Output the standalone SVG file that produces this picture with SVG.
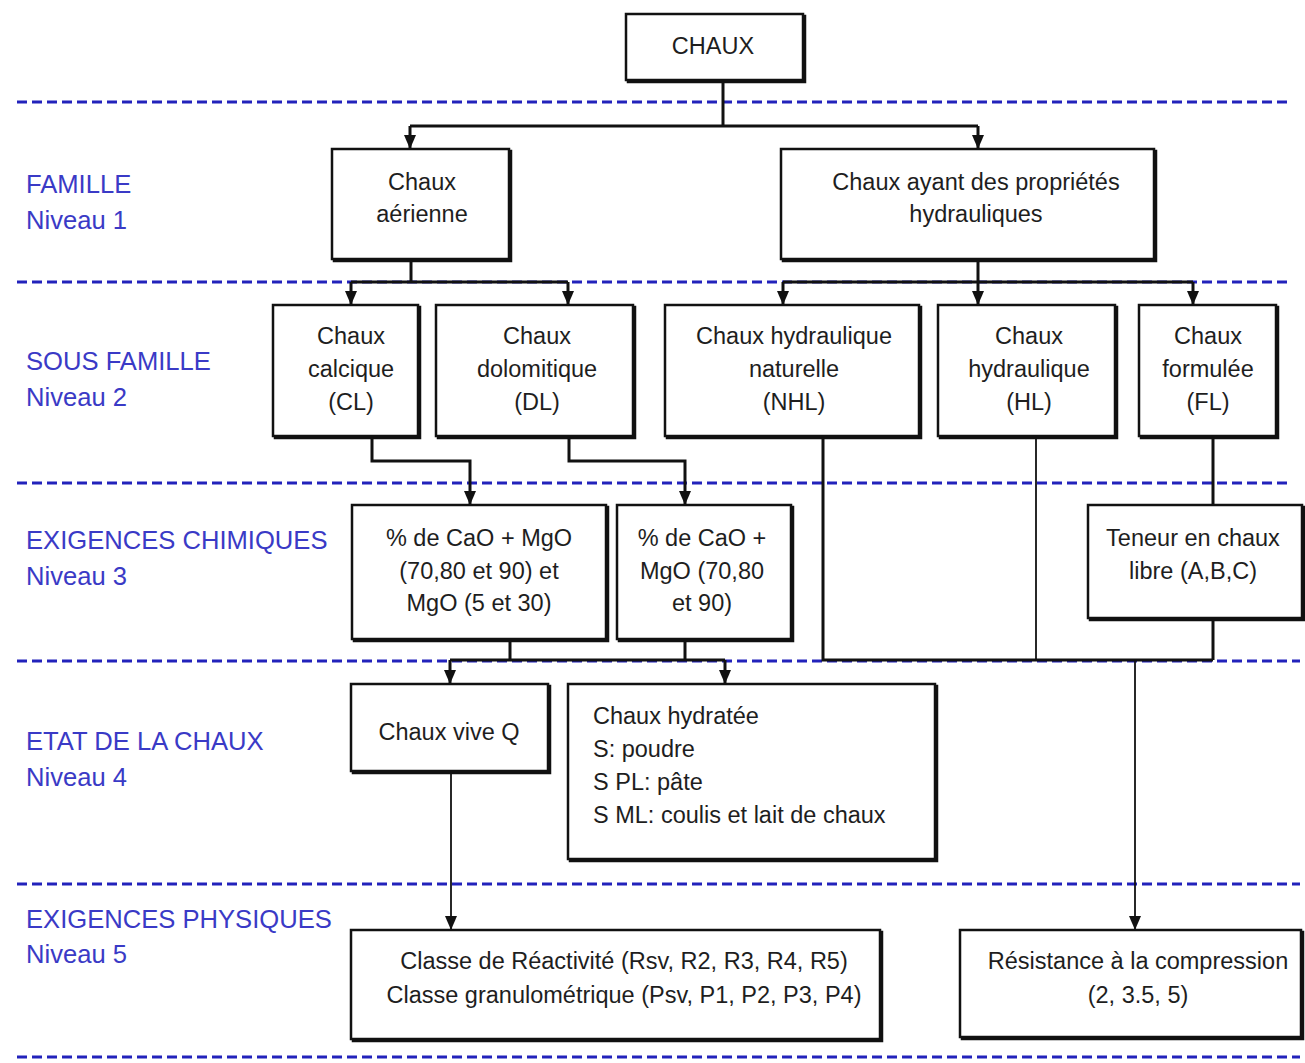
<svg xmlns="http://www.w3.org/2000/svg" width="1305" height="1063" viewBox="0 0 1305 1063">
  <style>
    .lvl { stroke: #2222bb; stroke-width: 3; stroke-dasharray: 10 5; fill: none; }
    .lab { font-family: "Liberation Sans", Arial, sans-serif; font-size: 25.6px; fill: #3a3ac6; }
    .box { fill: #ffffff; stroke: #111111; stroke-width: 2.5; }
    .shd { fill: none; stroke: #111111; stroke-width: 2.5; }
    .t { font-family: "Liberation Sans", Arial, sans-serif; font-size: 23.5px; fill: #1e1e1e; text-anchor: middle; }
    .tl { font-family: "Liberation Sans", Arial, sans-serif; font-size: 23.5px; fill: #1e1e1e; }
    .c { stroke: #111111; stroke-width: 3; fill: none; }
    .cf { stroke: #111111; stroke-width: 1.8; fill: none; }
  </style>
  <defs>
    <marker id="arr" viewBox="0 0 14 12" refX="14" refY="6" markerWidth="14" markerHeight="12" markerUnits="userSpaceOnUse" orient="auto">
      <path d="M0,0 L14,6 L0,12 z" fill="#111111"/>
    </marker>
  </defs>

  <rect width="1305" height="1063" fill="#ffffff"/>

  <!-- level separators -->
  <g id="separators">
    <line class="lvl" x1="17" y1="102" x2="1290" y2="102"/>
    <line class="lvl" x1="17" y1="282" x2="1290" y2="282"/>
    <line class="lvl" x1="17" y1="483" x2="1290" y2="483"/>
    <line class="lvl" x1="17" y1="661" x2="1300" y2="661"/>
    <line class="lvl" x1="17" y1="884" x2="1300" y2="884"/>
    <line class="lvl" x1="17" y1="1057" x2="1300" y2="1057"/>
  </g>

  <!-- level labels -->
  <g id="labels">
    <text class="lab" x="26" y="193">FAMILLE</text>
    <text class="lab" x="26" y="229">Niveau 1</text>
    <text class="lab" x="26" y="370">SOUS FAMILLE</text>
    <text class="lab" x="26" y="406">Niveau 2</text>
    <text class="lab" x="26" y="549">EXIGENCES CHIMIQUES</text>
    <text class="lab" x="26" y="585">Niveau 3</text>
    <text class="lab" x="26" y="750">ETAT DE LA CHAUX</text>
    <text class="lab" x="26" y="786">Niveau 4</text>
    <text class="lab" x="26" y="928">EXIGENCES PHYSIQUES</text>
    <text class="lab" x="26" y="963">Niveau 5</text>
  </g>

  <!-- connectors -->
  <g id="connectors">
    <path class="c" d="M723,80 V126"/>
    <path class="c" d="M410,126 H978"/>
    <path class="c" d="M410,126 V149" marker-end="url(#arr)"/>
    <path class="c" d="M978,126 V149" marker-end="url(#arr)"/>

    <path class="c" d="M411,260 V282"/>
    <path class="c" d="M351,282 H568"/>
    <path class="c" d="M351,282 V305" marker-end="url(#arr)"/>
    <path class="c" d="M568,282 V305" marker-end="url(#arr)"/>

    <path class="c" d="M978,260 V282"/>
    <path class="c" d="M783,282 H1193"/>
    <path class="c" d="M783,282 V305" marker-end="url(#arr)"/>
    <path class="c" d="M978,282 V305" marker-end="url(#arr)"/>
    <path class="c" d="M1193,282 V305" marker-end="url(#arr)"/>

    <path class="c" d="M372,437 V461 H470 V505" marker-end="url(#arr)"/>
    <path class="c" d="M569,437 V461 H685 V505" marker-end="url(#arr)"/>

    <path class="c" d="M510,640 V660"/>
    <path class="c" d="M685,640 V660"/>
    <path class="c" d="M450,660 H725"/>
    <path class="c" d="M450,660 V684" marker-end="url(#arr)"/>
    <path class="c" d="M725,660 V684" marker-end="url(#arr)"/>

    <path class="c" d="M823,437 V660 H1213"/>
    <path class="cf" d="M1036,437 V660"/>
    <path class="c" d="M1213,437 V505"/>
    <path class="c" d="M1213,618 V660"/>
    <path class="cf" d="M1135,660 V930" marker-end="url(#arr)"/>

    <path class="cf" d="M451,772 V930" marker-end="url(#arr)"/>
  </g>

  <!-- nodes -->
  <g id="n-chaux">
    <rect class="shd" x="628" y="16" width="177" height="66"/>
    <rect class="box" x="626" y="14" width="177" height="66"/>
    <text class="t" x="713" y="54">CHAUX</text>
  </g>

  <g id="n-aerienne">
    <rect class="shd" x="334" y="151" width="177" height="110"/>
    <rect class="box" x="332" y="149" width="177" height="110"/>
    <text class="t" x="422" y="190">Chaux</text>
    <text class="t" x="422" y="222">aérienne</text>
  </g>

  <g id="n-hydrauliques">
    <rect class="shd" x="783" y="151" width="373" height="110"/>
    <rect class="box" x="781" y="149" width="373" height="110"/>
    <text class="t" x="976" y="190">Chaux ayant des propriétés</text>
    <text class="t" x="976" y="222">hydrauliques</text>
  </g>

  <g id="n-cl">
    <rect class="shd" x="275" y="307" width="145" height="131"/>
    <rect class="box" x="273" y="305" width="145" height="131"/>
    <text class="t" x="351" y="344">Chaux</text>
    <text class="t" x="351" y="377">calcique</text>
    <text class="t" x="351" y="410">(CL)</text>
  </g>

  <g id="n-dl">
    <rect class="shd" x="438" y="307" width="197" height="131"/>
    <rect class="box" x="436" y="305" width="197" height="131"/>
    <text class="t" x="537" y="344">Chaux</text>
    <text class="t" x="537" y="377">dolomitique</text>
    <text class="t" x="537" y="410">(DL)</text>
  </g>

  <g id="n-nhl">
    <rect class="shd" x="667" y="307" width="254" height="131"/>
    <rect class="box" x="665" y="305" width="254" height="131"/>
    <text class="t" x="794" y="344">Chaux hydraulique</text>
    <text class="t" x="794" y="377">naturelle</text>
    <text class="t" x="794" y="410">(NHL)</text>
  </g>

  <g id="n-hl">
    <rect class="shd" x="940" y="307" width="177" height="131"/>
    <rect class="box" x="938" y="305" width="177" height="131"/>
    <text class="t" x="1029" y="344">Chaux</text>
    <text class="t" x="1029" y="377">hydraulique</text>
    <text class="t" x="1029" y="410">(HL)</text>
  </g>

  <g id="n-fl">
    <rect class="shd" x="1141" y="307" width="137" height="131"/>
    <rect class="box" x="1139" y="305" width="137" height="131"/>
    <text class="t" x="1208" y="344">Chaux</text>
    <text class="t" x="1208" y="377">formulée</text>
    <text class="t" x="1208" y="410">(FL)</text>
  </g>

  <g id="n-cao-mgo-1">
    <rect class="shd" x="354" y="507" width="254" height="134"/>
    <rect class="box" x="352" y="505" width="254" height="134"/>
    <text class="t" x="479" y="546">% de CaO + MgO</text>
    <text class="t" x="479" y="579">(70,80 et 90) et</text>
    <text class="t" x="479" y="611">MgO (5 et 30)</text>
  </g>

  <g id="n-cao-mgo-2">
    <rect class="shd" x="619" y="507" width="174" height="134"/>
    <rect class="box" x="617" y="505" width="174" height="134"/>
    <text class="t" x="702" y="546">% de CaO +</text>
    <text class="t" x="702" y="579">MgO (70,80</text>
    <text class="t" x="702" y="611">et 90)</text>
  </g>

  <g id="n-teneur">
    <rect class="shd" x="1090" y="507" width="214" height="113"/>
    <rect class="box" x="1088" y="505" width="214" height="113"/>
    <text class="t" x="1193" y="546">Teneur en chaux</text>
    <text class="t" x="1193" y="579">libre (A,B,C)</text>
  </g>

  <g id="n-vive">
    <rect class="shd" x="353" y="686" width="197" height="87"/>
    <rect class="box" x="351" y="684" width="197" height="87"/>
    <text class="t" x="449" y="740">Chaux vive Q</text>
  </g>

  <g id="n-hydratee">
    <rect class="shd" x="570" y="686" width="367" height="175"/>
    <rect class="box" x="568" y="684" width="367" height="175"/>
    <text class="tl" x="593" y="724">Chaux hydratée</text>
    <text class="tl" x="593" y="757">S: poudre</text>
    <text class="tl" x="593" y="790">S PL: pâte</text>
    <text class="tl" x="593" y="823">S ML: coulis et lait de chaux</text>
  </g>

  <g id="n-classe">
    <rect class="shd" x="353" y="932" width="529" height="109"/>
    <rect class="box" x="351" y="930" width="529" height="109"/>
    <text class="t" x="624" y="969">Classe de Réactivité (Rsv, R2, R3, R4, R5)</text>
    <text class="t" x="624" y="1003">Classe granulométrique (Psv, P1, P2, P3, P4)</text>
  </g>

  <g id="n-resistance">
    <rect class="shd" x="962" y="932" width="341" height="107"/>
    <rect class="box" x="960" y="930" width="341" height="107"/>
    <text class="t" x="1138" y="969">Résistance à la compression</text>
    <text class="t" x="1138" y="1003">(2, 3.5, 5)</text>
  </g>
</svg>
